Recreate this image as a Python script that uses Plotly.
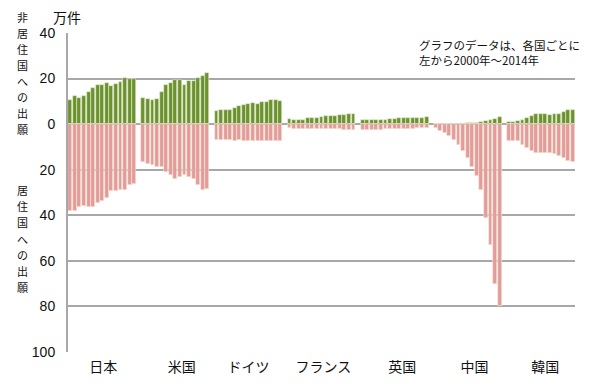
import plotly.graph_objects as go

countries = ["日本", "米国", "ドイツ", "フランス", "英国", "中国", "韓国"]
years = list(range(2000, 2015))

# 非居住国への出願 (万件), 2000-2014
nonres_japan = [10.5, 12.3, 11.5, 12.5, 14.0, 16.0, 17.0, 17.4, 17.9, 16.8, 17.8, 18.7, 20.1, 20.0, 19.9]
nonres_us = [11.3, 11.0, 10.6, 11.2, 13.9, 17.4, 18.1, 19.3, 19.4, 17.2, 19.0, 19.0, 20.1, 21.3, 22.3]
nonres_germany = [5.9, 6.4, 6.1, 6.1, 7.2, 7.8, 8.4, 8.8, 9.3, 8.7, 9.6, 9.9, 10.6, 10.7, 10.1]
nonres_france = [2.3, 2.0, 2.0, 2.0, 2.5, 2.9, 2.9, 3.2, 3.5, 3.5, 3.6, 3.9, 4.2, 4.3, 4.3]
nonres_uk = [1.7, 1.7, 1.7, 1.7, 1.8, 2.0, 2.2, 2.3, 2.5, 2.5, 2.6, 2.7, 2.7, 2.9, 3.0]
nonres_china = [0.05, 0.05, 0.08, 0.1, 0.1, 0.12, 0.15, 0.3, 0.4, 0.6, 0.9, 1.3, 1.9, 2.3, 3.3]
nonres_korea = [0.9, 1.0, 1.3, 1.9, 2.6, 3.5, 4.3, 4.5, 4.3, 3.9, 4.3, 4.6, 5.4, 6.1, 6.4]

# 居住国への出願 (万件), 2000-2014
res_japan = [38.1, 38.1, 36.3, 35.8, 36.5, 36.5, 34.5, 33.8, 32.2, 29.5, 29.2, 28.9, 28.8, 26.8, 26.3]
res_us = [16.4, 17.5, 18.1, 18.7, 19.0, 21.0, 22.2, 23.9, 23.2, 22.3, 23.2, 24.2, 26.8, 28.7, 28.6]
res_germany = [7.0, 7.0, 7.0, 7.0, 7.2, 7.1, 7.2, 7.2, 7.3, 7.3, 7.5, 7.3, 7.2, 7.2, 7.2]
res_france = [1.9, 2.0, 2.0, 2.0, 2.0, 2.2, 2.2, 2.2, 2.3, 2.3, 2.3, 2.3, 2.5, 2.5, 2.5]
res_uk = [2.5, 2.5, 2.5, 2.5, 2.5, 2.3, 2.3, 2.2, 2.2, 2.2, 2.1, 2.1, 1.9, 1.9, 1.9]
res_china = [1.8, 2.8, 3.9, 5.3, 6.8, 9.2, 12.0, 15.0, 19.0, 22.7, 29.0, 41.0, 53.0, 70.0, 80.0]
res_korea = [7.2, 7.4, 7.5, 9.0, 10.4, 12.0, 12.6, 12.8, 12.8, 12.8, 13.0, 13.8, 14.9, 16.1, 16.5]

nonres = [nonres_japan, nonres_us, nonres_germany, nonres_france, nonres_uk, nonres_china, nonres_korea]
res = [res_japan, res_us, res_germany, res_france, res_uk, res_china, res_korea]

y_tickvals = [40, 20, 0, -20, -40, -60, -80, -100]
y_ticktext = ["40", "20", "0", "20", "40", "60", "80", "100"]

label_top = "非居住国への出願"
label_bottom = "居住国への出願"
note_lines = ["グラフのデータは、各国ごとに", "左から2000年～2014年"]
unit_label = "万件"

slot = len(years) + 1  # one empty slot between country groups
xs, ypos, yneg = [], [], []
for g, (pv, nv) in enumerate(zip(nonres, res)):
    for i in range(len(years)):
        xs.append(g * slot + i)
        ypos.append(pv[i])
        yneg.append(-nv[i])

FONT = "Liberation Sans, Arial, Noto Sans CJK JP, sans-serif"
JPFONT = "Noto Sans CJK JP, sans-serif"
GRID = "#a8a8a8"
TXT = "#111111"

# page body has an 8px default margin: size the figure so the plot lands where the reference has it
PLOT_TOP_PX = 25  # = margin t

fig = go.Figure()
fig.add_trace(go.Bar(x=xs, y=ypos, width=0.85, marker=dict(color="#6b9230", line=dict(color="#e9efcf", width=0.6)),
                     showlegend=False, hoverinfo="y"))
fig.add_trace(go.Bar(x=xs, y=yneg, width=0.85, marker=dict(color="#e39b9b", line=dict(color="#f3efd8", width=0.6)),
                     showlegend=False, hoverinfo="y"))

centers = [g * slot + (len(years) - 1) / 2 for g in range(len(countries))]
label_nudge = [0.2, 1.4, 0.0, 0.4, 1.7, 1.5, 1.0]

fig.update_layout(
    width=592, height=380,
    margin=dict(l=60, r=25, t=PLOT_TOP_PX, b=31),
    paper_bgcolor="white", plot_bgcolor="white",
    barmode="relative", bargap=0,
    font=dict(family=FONT, size=14, color=TXT),
    xaxis=dict(range=[-0.5, (len(countries) - 1) * slot + len(years) - 0.5],
               tickvals=[c + n for c, n in zip(centers, label_nudge)], ticktext=countries,
               tickfont=dict(family=JPFONT, size=14, color=TXT),
               showgrid=False, zeroline=False, showline=False, ticks="", ticklen=0,
               ticklabelstandoff=5),
    yaxis=dict(range=[-100, 40], tickvals=y_tickvals, ticktext=y_ticktext,
               tickfont=dict(family=FONT, size=14, color=TXT),
               showgrid=True, gridcolor=GRID, gridwidth=2,
               zeroline=True, zerolinecolor=GRID, zerolinewidth=2,
               showline=True, linecolor=GRID, linewidth=2, ticks="", ticklabelstandoff=8),
)

# unit label above the y axis
fig.add_annotation(text=unit_label, xref="paper", yref="paper", x=0, xshift=-1, y=1.0, yshift=16,
                   xanchor="center", yanchor="middle", showarrow=False,
                   font=dict(family=JPFONT, size=14, color=TXT))

# vertical axis titles, one character per annotation (screen-pixel centres)
def vertical(label, first_center_px, pitch=16.2):
    for k, ch in enumerate(label):
        fig.add_annotation(text=ch, xref="paper", yref="paper", x=0, xshift=-46,
                           y=1.0, yshift=-(first_center_px + pitch * k - 33),
                           xanchor="center", yanchor="middle", showarrow=False,
                           font=dict(family=JPFONT, size=11, color=TXT))

vertical(label_top, 16.5, 16.0)
vertical(label_bottom, 190)

fig.add_annotation(text="<br>".join(note_lines), xref="paper", yref="paper", x=0.688, y=1.0, yshift=-2,
                   xanchor="left", yanchor="top", align="left", showarrow=False,
                   font=dict(family=JPFONT, size=11.5, color=TXT))

fig.write_html("out.html")
